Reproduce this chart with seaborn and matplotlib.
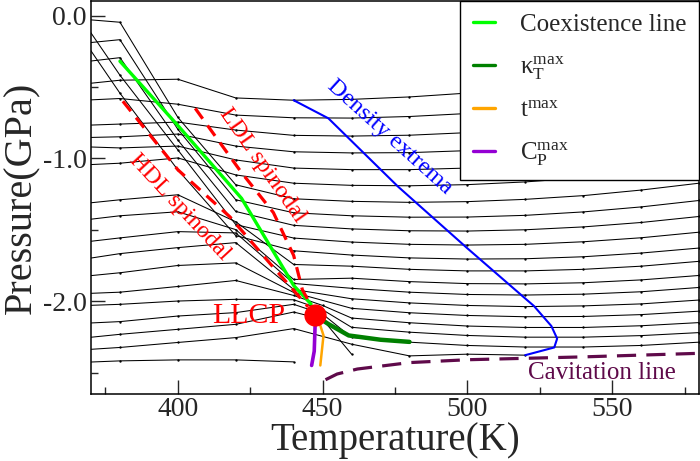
import numpy as np
import pandas as pd
import matplotlib
matplotlib.use('Agg')
import matplotlib.pyplot as plt
import seaborn as sns
from matplotlib.lines import Line2D
from matplotlib.ticker import MultipleLocator, FormatStrFormatter

nan = np.nan

# temperatures of the isochore points (K); 360 lies left of the frame and is clipped
T_grid = [360, 380, 400, 420, 440, 450, 460, 480, 500, 520, 540, 560, 580]

# isochores, pressure in GPa (nan = no point at that temperature)
iso_01 = [-0.495, -0.453, -0.446, -0.577, -0.593, nan, -0.587, -0.570, -0.543, -0.503, -0.453, -0.392, -0.319]
iso_02 = [-0.600, -0.581, -0.621, -0.697, -0.716, nan, -0.718, -0.707, -0.686, -0.654, -0.610, -0.556, -0.490]
iso_03 = [-0.774, -0.760, -0.746, -0.802, -0.839, nan, -0.844, -0.838, -0.820, -0.792, -0.752, -0.702, -0.639]
iso_04 = [-0.858, -0.849, -0.830, -0.914, -0.954, nan, -0.962, -0.960, -0.946, -0.921, -0.884, -0.837, -0.778]
iso_05 = [-0.914, -0.927, -0.914, -1.011, -1.068, nan, -1.079, -1.079, -1.068, -1.046, -1.013, -0.968, -0.912]
iso_06 = [-1.053, -1.034, -0.997, -1.116, -1.174, nan, -1.189, -1.192, -1.184, -1.165, -1.135, -1.094, -1.042]
iso_07 = [-0.014, -0.047, -0.713, -1.185, -1.283, nan, -1.301, -1.308, -1.303, -1.287, -1.261, -1.222, -1.174]
iso_08 = [-0.209, -0.169, -0.797, -1.290, -1.381, nan, -1.402, -1.412, -1.411, -1.399, -1.375, -1.340, -1.295]
iso_09 = [-0.342, -0.295, -0.872, -1.372, -1.469, nan, -1.494, -1.507, -1.509, -1.500, -1.480, -1.449, -1.407]
iso_10 = [0.174, -0.418, -0.941, -1.464, -1.558, nan, -1.586, -1.602, -1.607, -1.602, -1.584, -1.556, -1.517]
iso_11 = [0.049, -0.544, -1.081, -1.541, -1.647, nan, -1.677, -1.697, -1.705, -1.703, -1.689, -1.663, -1.628]
iso_12 = [-1.332, -1.290, -1.255, -1.444, -1.743, nan, -1.755, -1.777, -1.788, -1.788, -1.777, -1.755, -1.721]
iso_13 = [-1.450, -1.402, -1.374, -1.499, -1.848, nan, -1.839, -1.863, -1.877, -1.879, -1.871, -1.851, -1.820]
iso_14 = [-1.604, -1.557, -1.513, -1.522, -1.876, nan, -1.910, -1.937, -1.953, -1.957, -1.951, -1.934, -1.904]
iso_15 = [-1.729, -1.667, -1.625, -1.590, -1.918, nan, -1.983, -2.012, -2.030, -2.038, -2.033, -2.019, -1.992]
iso_16 = [-1.841, -1.801, -1.750, -1.732, -1.939, nan, -2.050, -2.081, -2.100, -2.109, -2.107, -2.094, -2.070]
iso_17 = [-1.953, -1.937, -1.897, -1.855, -1.960, -2.030, -2.118, -2.151, -2.174, -2.184, -2.184, -2.172, -2.150]
iso_18 = [-2.036, -2.022, -1.999, -1.987, -1.990, -2.060, -2.183, -2.217, -2.240, -2.252, -2.252, -2.241, -2.220]
iso_19 = [-2.162, -2.143, -2.104, -2.080, -2.022, -2.090, -2.254, -2.287, -2.310, -2.321, -2.321, -2.310, -2.287]
iso_20 = [-2.273, -2.232, -2.197, -2.162, -2.076, -2.127, -2.371, nan, nan, nan, nan, nan, nan]
iso_21 = [-2.350, -2.324, -2.289, -2.255, -2.192, nan, -2.301, -2.383, -2.371, -2.378, nan, nan, nan]
iso_22 = [-2.434, -2.418, -2.411, -2.411, -2.425, nan, nan, nan, nan, nan, nan, nan, nan]

# special lines
coex_T = [380, 400, 422, 440, 446]
coex_P = [-0.32, -0.77, -1.28, -1.89, -2.02]
hdl_T = [381, 400, 418, 432, 445]
hdl_P = [-0.60, -1.08, -1.41, -1.74, -2.04]
ldl_T = [406, 422, 433, 440, 443, 446]
ldl_P = [-0.65, -1.10, -1.38, -1.68, -1.92, -2.03]
dens_T = [440, 452, 476, 500, 519, 523, 529, 531, 530, 520]
dens_P = [-0.593, -0.72, -1.197, -1.63, -1.964, -2.034, -2.174, -2.262, -2.324, -2.378]
kappa_T = [447.4, 452, 459, 470, 480]
kappa_P = [-2.10, -2.16, -2.24, -2.27, -2.285]
tmax_T = [448, 449.2, 450.3, 449.2]
tmax_P = [-2.10, -2.17, -2.24, -2.45]
cp_T = [447.4, 447.4, 447.1, 446.2]
cp_P = [-2.10, -2.17, -2.35, -2.45]
cav_T = [451, 455, 462, 480, 500, 540, 580]
cav_P = [-2.55, -2.51, -2.475, -2.43, -2.41, -2.39, -2.365]
llcp_T = [447.4]
llcp_P = [-2.10]

sns.set_theme(style='ticks')
plt.rcParams['font.family'] = ['Liberation Serif', 'DejaVu Serif']
plt.rcParams['mathtext.fontset'] = 'custom'
plt.rcParams['mathtext.rm'] = 'Liberation Serif'
plt.rcParams['mathtext.it'] = 'Liberation Serif:italic'
plt.rcParams['axes.unicode_minus'] = False

all_iso = [iso_01, iso_02, iso_03, iso_04, iso_05, iso_06, iso_07, iso_08, iso_09, iso_10, iso_11,
           iso_12, iso_13, iso_14, iso_15, iso_16, iso_17, iso_18, iso_19, iso_20, iso_21, iso_22]
rows = []
for k, vals in enumerate(all_iso):
    for t, p in zip(T_grid, vals):
        rows.append({'line': k, 'T': t, 'P': p})
iso_df = pd.DataFrame(rows).dropna()

fig = plt.figure(figsize=(7, 4.61), dpi=100)
ax = fig.add_axes([0.13, 0.1453, 0.8686, 0.852])

sns.lineplot(data=iso_df, x='T', y='P', units='line', estimator=None, sort=False,
             color='black', lw=0.75, marker='o', markersize=1.7, markeredgewidth=0, ax=ax, zorder=2)

sns.lineplot(x=dens_T, y=dens_P, sort=False, estimator=None, color='#0000ff', lw=1.5, ax=ax, zorder=3)
sns.lineplot(x=coex_T, y=coex_P, sort=False, estimator=None, color='#00ff00', lw=2.4, ax=ax, zorder=4)
sns.lineplot(x=hdl_T, y=hdl_P, sort=False, estimator=None, color='#ff0000', lw=2.3,
             linestyle=(0, (4, 2.6)), ax=ax, zorder=4)
sns.lineplot(x=ldl_T, y=ldl_P, sort=False, estimator=None, color='#ff0000', lw=2.3,
             linestyle=(0, (4, 2.6)), ax=ax, zorder=4)
sns.lineplot(x=kappa_T, y=kappa_P, sort=False, estimator=None, color='#008000', lw=3.2, ax=ax, zorder=4)
sns.lineplot(x=tmax_T, y=tmax_P, sort=False, estimator=None, color='#ffa500', lw=1.8, ax=ax, zorder=4)
sns.lineplot(x=cp_T, y=cp_P, sort=False, estimator=None, color='#9400d3', lw=2.6, ax=ax, zorder=4)
sns.lineplot(x=cav_T, y=cav_P, sort=False, estimator=None, color='#5f0a4a', lw=2.3,
             linestyle=(0, (6, 3.2)), ax=ax, zorder=4)
ax.plot(llcp_T, llcp_P, 'o', color='#ff0000', markersize=15, zorder=6)

ax.text(429, -1.046, 'LDL spinodal', color='#ff0000', fontsize=17.5, rotation=-55,
        ha='center', va='center', rotation_mode='anchor')
ax.text(400.6, -1.34, 'HDL spinodal', color='#ff0000', fontsize=17.5, rotation=-47,
        ha='center', va='center', rotation_mode='anchor')
ax.text(473.3, -0.847, 'Density extrema', color='#0000ff', fontsize=17.5, rotation=-42,
        ha='center', va='center', rotation_mode='anchor')
ax.text(424.4, -2.105, 'LLCP', color='#ff0000', fontsize=21.5, ha='center', va='center')
ax.text(546.3, -2.50, 'Cavitation line', color='#5f0a4a', fontsize=18, ha='center', va='center')

ax.set_xlim(370, 580)
ax.set_ylim(-2.65, 0.1)
ax.xaxis.set_major_locator(MultipleLocator(50))
ax.xaxis.set_minor_locator(MultipleLocator(25))
ax.yaxis.set_major_locator(MultipleLocator(1.0))
ax.yaxis.set_minor_locator(MultipleLocator(0.5))
ax.yaxis.set_major_formatter(FormatStrFormatter('%.1f'))
ax.tick_params(which='both', direction='in', top=False, right=False, labelsize=20, width=1)
ax.tick_params(which='major', length=10)
ax.tick_params(which='minor', length=5)
ax.tick_params(axis='x', pad=2.5)
ax.tick_params(axis='y', pad=3)
for sp in ax.spines.values():
    sp.set_visible(True)
    sp.set_linewidth(1.1)
    sp.set_color('black')

ax.set_xlabel('Temperature(K)', fontsize=28, labelpad=0)
ax.set_ylabel('Pressure(GPa)', fontsize=29, labelpad=2)

handles = [Line2D([], [], color='#00ff00', lw=2.4),
           Line2D([], [], color='#008000', lw=2.4),
           Line2D([], [], color='#ffa500', lw=2.4),
           Line2D([], [], color='#9400d3', lw=2.4)]
labels = ['Coexistence line', r'$\mathrm{κ}_{\mathrm{T}}^{\mathrm{max}}$',
          r'$\mathrm{t}^{\mathrm{max}}$', r'$\mathrm{C}_{\mathrm{P}}^{\mathrm{max}}$']
leg = ax.legend(handles, labels, loc='upper right', borderaxespad=0, fontsize=18,
                handlelength=0.9, handletextpad=1.0, labelspacing=0.72, borderpad=0.5,
                fancybox=False, framealpha=1, edgecolor='black')
leg.get_frame().set_linewidth(1.0)
leg.set_zorder(10)

fig.savefig('out.png', dpi=100)
